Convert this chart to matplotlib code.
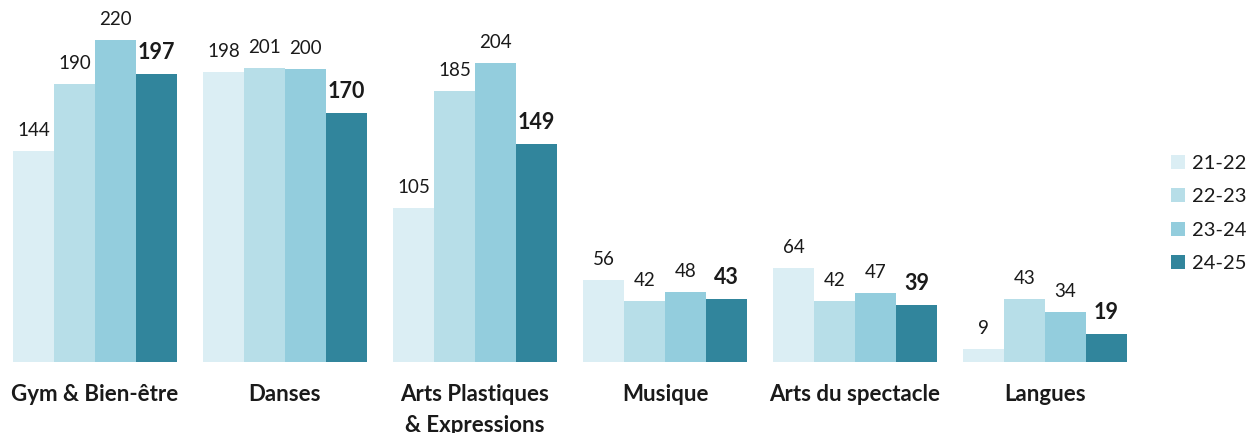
import matplotlib
matplotlib.use("Agg")
import matplotlib.pyplot as plt
import numpy as np

categories = ["Gym & Bien-être", "Danses", "Arts Plastiques\n& Expressions",
              "Musique", "Arts du spectacle", "Langues"]
seasons = ["21-22", "22-23", "23-24", "24-25"]
v_21_22 = [144, 198, 105, 56, 64, 9]
v_22_23 = [190, 201, 185, 42, 42, 43]
v_23_24 = [220, 200, 204, 48, 47, 34]
v_24_25 = [197, 170, 149, 43, 39, 19]
series = [v_21_22, v_22_23, v_23_24, v_24_25]
colors = ["#DBEEF4", "#B7DEE8", "#93CDDD", "#31859C"]

plt.rcParams['font.family'] = ['Lato', 'DejaVu Sans']

fig = plt.figure(figsize=(12.5, 4.33), dpi=100)
ax = fig.add_axes([0, 71 / 433, 1140 / 1250, 362 / 433])

x = np.arange(len(categories))
w = 41 / 190
for j, (vals, col, lab) in enumerate(zip(series, colors, seasons)):
    pos = x + (j - 1.5) * w
    ax.bar(pos, vals, width=w, color=col, label=lab, linewidth=0)
    last = (j == 3)
    for px, v in zip(pos, vals):
        ax.annotate(str(v), (px, v), xytext=(0, 10.8), textcoords="offset points",
                    ha="center", va="baseline",
                    fontsize=15.5 if last else 13.5,
                    fontweight="bold" if last else "normal",
                    color="#1a1a1a")

ax.set_xlim(-0.5, 5.5)
ax.set_ylim(0, 362 / (322 / 220))
ax.set_xticks(x)
ax.set_xticklabels(categories, fontsize=16, fontweight="bold", color="#1a1a1a",
                   linespacing=1.55)
ax.tick_params(axis="x", length=0, pad=16)
ax.set_yticks([])
for s in ax.spines.values():
    s.set_visible(False)

leg = fig.legend(loc="center left", bbox_to_anchor=(1171 / 1250, 219.5 / 433),
                 frameon=False, fontsize=14.5, handlelength=0.7, handleheight=0.7,
                 handletextpad=0.35, labelspacing=0.8, borderpad=0, borderaxespad=0)
for t in leg.get_texts():
    t.set_color("#1a1a1a")

fig.savefig("out.png", dpi=100)
